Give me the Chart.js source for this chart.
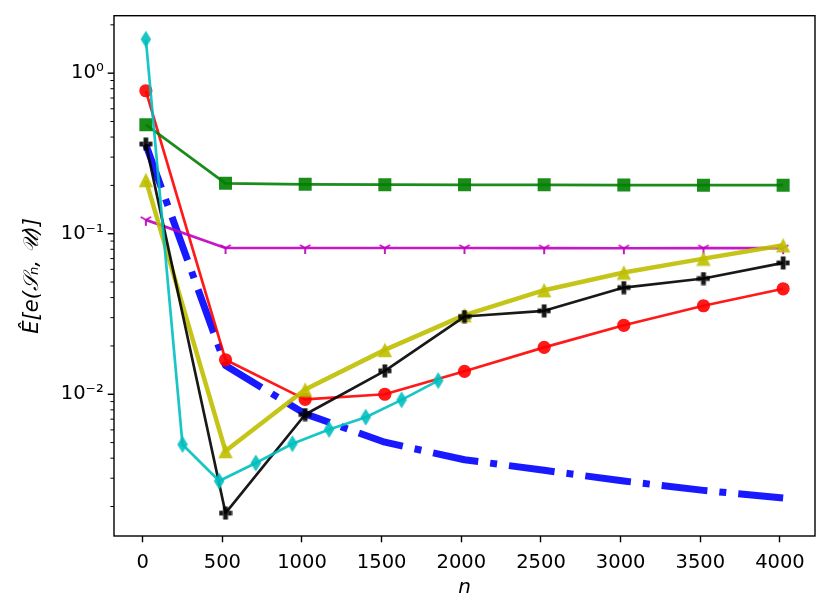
<!DOCTYPE html>
<html>
<head>
<meta charset="utf-8">
<script src="https://cdn.jsdelivr.net/npm/chart.js@4.4.1/dist/chart.umd.min.js"></script>
<style>
  html, body { margin: 0; padding: 0; background: #fff; }
  #box { width: 830px; height: 614px; }
</style>
</head>
<body>
<div id="box"><canvas id="errChart"></canvas></div>
<script>
Chart.defaults.font.family = "'DejaVu Sans', sans-serif";
Chart.defaults.font.size = 19.5;
Chart.defaults.color = '#000';

// sample sizes
const nCoarse = [20, 520, 1020, 1520, 2020, 2520, 3020, 3520, 4020];
const nFine = [20, 250, 480, 710, 940, 1170, 1400, 1625, 1855];

// estimated errors
const redErr = [0.777, 0.0164, 0.0093, 0.0100, 0.0139, 0.0196, 0.0269, 0.0356, 0.0454];
const greenErr = [0.478, 0.206, 0.203, 0.202, 0.2015, 0.2015, 0.201, 0.2005, 0.2005];
const magentaErr = [0.122, 0.0815, 0.0815, 0.0815, 0.0815, 0.0813, 0.0812, 0.0813, 0.0813];
const yellowErr = [0.216, 0.00443, 0.0107, 0.0189, 0.0311, 0.0445, 0.0573, 0.0700, 0.0847];
const blackErr = [0.362, 0.00182, 0.00748, 0.0140, 0.0305, 0.0331, 0.0462, 0.0526, 0.0658];
const cyanErr = [1.626, 0.00487, 0.00288, 0.00373, 0.00492, 0.00604, 0.00720, 0.00923, 0.01217];
const blueErr = [0.359, 0.0151, 0.00755, 0.00503, 0.00391, 0.00336, 0.00288, 0.00252, 0.00226];

// ticks
const xTickValues = [0, 500, 1000, 1500, 2000, 2500, 3000, 3500, 4000];
const yMajorTicks = [0.01, 0.1, 1];
const yTickLabels = ['10⁻²', '10⁻¹', '10⁰'];
const yMinorTicks = [0.002, 0.003, 0.004, 0.005, 0.006, 0.007, 0.008, 0.009,
                     0.02, 0.03, 0.04, 0.05, 0.06, 0.07, 0.08, 0.09,
                     0.2, 0.3, 0.4, 0.5, 0.6, 0.7, 0.8, 0.9, 2];

let mainChart = null;

function pts(xs, ys) {
    return xs.map((x, i) => ({ x: x, y: ys[i] }));
}

// small canvases for the marker shapes Chart.js does not have
function makeMarker(shape, color) {
    const c = document.createElement('canvas');
    const ctx = c.getContext('2d');
    if (shape === 'triangle') {
        c.width = 16; c.height = 16;
        ctx.fillStyle = color;
        ctx.beginPath();
        ctx.moveTo(8, 0.8); ctx.lineTo(15.2, 15.2); ctx.lineTo(0.8, 15.2);
        ctx.closePath(); ctx.fill();
    } else if (shape === 'plus') {
        c.width = 14; c.height = 14;
        ctx.fillStyle = color;
        ctx.fillRect(4.6, 0.5, 4.8, 13);
        ctx.fillRect(0.5, 4.6, 4.1, 4.8);
        ctx.fillRect(9.4, 4.6, 4.1, 4.8);
    } else if (shape === 'thinDiamond') {
        c.width = 12; c.height = 18;
        ctx.fillStyle = color;
        ctx.beginPath();
        ctx.moveTo(6, 0.5); ctx.lineTo(11.3, 9); ctx.lineTo(6, 17.5); ctx.lineTo(0.7, 9);
        ctx.closePath(); ctx.fill();
    } else if (shape === 'triDown') {
        c.width = 14; c.height = 14;
        ctx.strokeStyle = color;
        ctx.lineWidth = 2;
        ctx.beginPath();
        ctx.moveTo(7, 7); ctx.lineTo(7, 13);
        ctx.moveTo(7, 7); ctx.lineTo(1.8, 4);
        ctx.moveTo(7, 7); ctx.lineTo(12.2, 4);
        ctx.stroke();
    }
    return c;
}

const boxPlugin = {
    id: 'boxPlugin',
    afterDraw(chart) {
        const { ctx, chartArea: a, scales: { y } } = chart;
        ctx.save();
        ctx.strokeStyle = '#000';
        y.ticks.forEach(t => {
            const py = y.getPixelForValue(t.value);
            const major = yMajorTicks.includes(t.value);
            const len = major ? 6.3 : 3.6;
            ctx.lineWidth = major ? 1.4 : 1;
            ctx.beginPath();
            ctx.moveTo(a.left - len, py);
            ctx.lineTo(a.left, py);
            ctx.stroke();
        });
        ctx.lineWidth = 1.4;
        ctx.strokeRect(a.left, a.top, a.right - a.left, a.bottom - a.top);
        ctx.restore();
    }
};

function lineSet(data, color, width, extra) {
    return Object.assign({
        data: data,
        borderColor: color,
        backgroundColor: color,
        borderWidth: width,
        borderJoinStyle: 'round',
        pointBorderWidth: 0,
        pointHoverRadius: 0,
        fill: false,
        tension: 0
    }, extra);
}

function renderChart() {
    if (mainChart) mainChart.destroy();

    const red = 'rgba(255,0,0,0.9)';
    const green = 'rgba(0,128,0,0.9)';
    const magenta = 'rgba(191,0,191,0.9)';
    const yellow = 'rgba(191,191,0,0.9)';
    const black = 'rgba(0,0,0,0.9)';
    const cyan = 'rgba(0,191,191,0.9)';
    const blue = 'rgba(0,0,255,0.9)';

    // first dataset ends up on top
    const datasets = [
        lineSet(pts(nFine, cyanErr), cyan, 2.7, { pointStyle: makeMarker('thinDiamond', cyan) }),
        lineSet(pts(nCoarse, blackErr), black, 2.7, { pointStyle: makeMarker('plus', black) }),
        lineSet(pts(nCoarse, yellowErr), yellow, 4.5, { pointStyle: makeMarker('triangle', yellow) }),
        lineSet(pts(nCoarse, magentaErr), magenta, 2.7, { pointStyle: makeMarker('triDown', magenta) }),
        lineSet(pts(nCoarse, greenErr), green, 2.7, { pointStyle: 'rect', pointRadius: 9.2 }),
        lineSet(pts(nCoarse, redErr), red, 2.7, { pointStyle: 'circle', pointRadius: 6.6 }),
        lineSet(pts(nCoarse, blueErr), blue, 7, { pointRadius: 0, borderDash: [46, 12, 7, 12], borderCapStyle: 'butt' })
    ];

    const ctx = document.getElementById('errChart').getContext('2d');
    mainChart = new Chart(ctx, {
        type: 'line',
        data: { datasets: datasets },
        plugins: [boxPlugin],
        options: {
            responsive: true,
            maintainAspectRatio: false,
            animation: false,
            layout: { padding: { left: 0, right: 15, top: 14, bottom: 0 } },
            plugins: { legend: { display: false }, tooltip: { enabled: false } },
            scales: {
                x: {
                    type: 'linear',
                    min: -180,
                    max: 4220,
                    afterBuildTicks: (scale) => { scale.ticks = xTickValues.map(v => ({ value: v })); },
                    afterFit: (scale) => { scale.height = 78; },
                    ticks: { autoSkip: false, maxRotation: 0, padding: 9, callback: (v) => String(v) },
                    grid: { drawOnChartArea: false, tickLength: 6.3, tickColor: '#000', tickWidth: 1.4 },
                    border: { display: false },
                    title: { display: true, text: 'n', font: { style: 'italic', size: 20 }, padding: { top: 0, bottom: 14 } }
                },
                y: {
                    type: 'logarithmic',
                    min: 0.00131,
                    max: 2.28,
                    afterBuildTicks: (scale) => {
                        scale.ticks = yMinorTicks.concat(yMajorTicks).sort((a, b) => a - b).map(v => ({ value: v }));
                    },
                    afterFit: (scale) => { scale.width = 114; },
                    ticks: {
                        autoSkip: false,
                        padding: 4,
                        callback: (v) => {
                            const i = yMajorTicks.indexOf(v);
                            return i >= 0 ? yTickLabels[i] : '';
                        }
                    },
                    grid: { drawOnChartArea: false, tickLength: 6.3, tickColor: 'rgba(0,0,0,0)' },
                    border: { display: false },
                    title: { display: true, text: 'Ê[e(𝒮ₙ, 𝒰)]', font: { style: 'italic', size: 21 }, padding: { top: 20, bottom: 0 } }
                }
            }
        }
    });
}

document.addEventListener('DOMContentLoaded', () => {
    renderChart();
});
</script>
</body>
</html>
